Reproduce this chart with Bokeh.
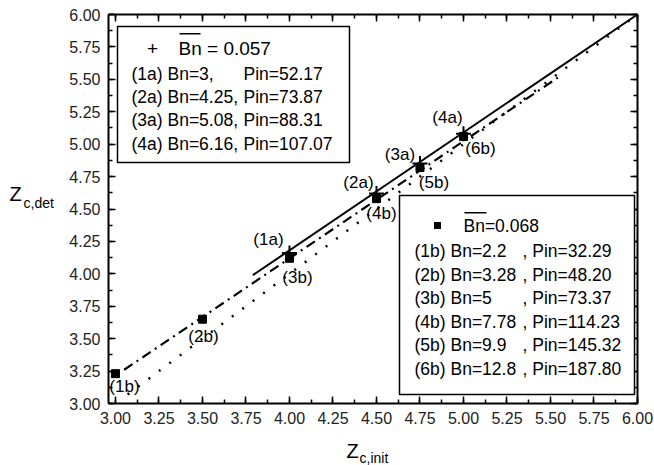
from bokeh.plotting import figure
from bokeh.models import (ColumnDataSource, LinearAxis, SingleIntervalTicker,
                          NumeralTickFormatter, CustomJSTickFormatter, Label,
                          BoxAnnotation)
from bokeh.core.properties import value
from bokeh.embed import file_html
from bokeh.resources import INLINE

# ---- data -------------------------------------------------------------
# series (a): Bn-bar = 0.057
xa = [4.0, 4.5, 4.75, 5.0]
ya = [4.16, 4.62, 4.85, 5.08]
labels_a = ["(1a)", "(2a)", "(3a)", "(4a)"]

# series (b): Bn-bar = 0.068
xb = [3.0, 3.5, 4.0, 4.5, 4.75, 5.0]
yb = [3.23, 3.65, 4.12, 4.58, 4.82, 5.06]
labels_b = ["(1b)", "(2b)", "(3b)", "(4b)", "(5b)", "(6b)"]

# trend lines (end points)
fit_a_x = [3.79, 6.0]
fit_a_y = [3.99, 6.0]
fit_b_x = [3.05, 5.55]
fit_b_y = [3.26, 5.52]
diag_x = [3.07, 6.0]
diag_y = [3.07, 6.0]

legend_a_head = "Bn = 0.057"
legend_a_left = ["(1a) Bn=3,", "(2a) Bn=4.25,", "(3a) Bn=5.08,", "(4a) Bn=6.16,"]
legend_a_right = ["Pin=52.17", "Pin=73.87", "Pin=88.31", "Pin=107.07"]

legend_b_head = "Bn=0.068"
legend_b_left = ["(1b) Bn=2.2", "(2b) Bn=3.28", "(3b) Bn=5", "(4b) Bn=7.78",
                 "(5b) Bn=9.9", "(6b) Bn=12.8"]
legend_b_right = [", Pin=32.29", ", Pin=48.20", ", Pin=73.37", ", Pin=114.23",
                  ", Pin=145.32", ", Pin=187.80"]

# ---- layout constants (pixels) ---------------------------------------
W, H = 654, 465
FL, FR, FT, FB = 108, 637, 14, 403   # frame edges
FONT = "Liberation Sans"

# pixel offsets of the point labels from their markers
off_a_x = [-21, -18, -20, -16]
off_a_y = [-14, -11, -9, -16]
off_b_x = [9, 1, 8, 5, 14, 17]
off_b_y = [13, 17, 19, 15, 15, 12]

p = figure(width=W, height=H, x_range=(2.96, 6.0), y_range=(3.0, 6.0),
           output_backend="svg", toolbar_location=None,
           min_border_left=FL, min_border_right=W - FR,
           min_border_top=FT, min_border_bottom=H - FB)
p.xgrid.visible = False
p.ygrid.visible = False
p.outline_line_color = None
p.background_fill_color = "white"


def style_axis(ax, show_labels=True):
    ax.ticker = SingleIntervalTicker(interval=0.25, num_minor_ticks=2)
    ax.axis_line_width = 2
    ax.axis_line_color = "black"
    ax.major_tick_in = 7
    ax.major_tick_out = 0
    ax.minor_tick_in = 4
    ax.minor_tick_out = 0
    ax.major_tick_line_width = 1.5
    ax.minor_tick_line_width = 1.5
    ax.major_tick_line_color = "black"
    ax.minor_tick_line_color = "black"
    ax.major_label_text_font = FONT
    ax.major_label_text_color = "#222222"
    ax.major_label_text_font_size = "16px"
    if show_labels:
        ax.formatter = NumeralTickFormatter(format="0.00")
        ax.major_label_standoff = 8
    else:
        ax.formatter = CustomJSTickFormatter(code="return ''")
        ax.major_label_standoff = 0


style_axis(p.xaxis[0])
style_axis(p.yaxis[0])
top_axis = LinearAxis()
right_axis = LinearAxis()
style_axis(top_axis, False)
style_axis(right_axis, False)
p.add_layout(top_axis, "above")
p.add_layout(right_axis, "right")

# ---- lines ------------------------------------------------------------
p.line(diag_x, diag_y, line_color="black", line_width=2.5, line_dash="2 11")
p.line(fit_b_x, fit_b_y, line_color="black", line_width=2.2, line_dash="10 5 2 5")
p.line(fit_a_x, fit_a_y, line_color="black", line_width=2)

# ---- markers ----------------------------------------------------------
p.scatter(xb, yb, marker="square", size=8, color="black")
p.scatter(xa, ya, marker="cross", size=15, line_width=2, color="black")

src_a = ColumnDataSource(dict(x=xa, y=ya, t=labels_a, dx=off_a_x, dy=off_a_y))
src_b = ColumnDataSource(dict(x=xb, y=yb, t=labels_b, dx=off_b_x, dy=off_b_y))
for src in (src_a, src_b):
    p.text(x="x", y="y", text="t", x_offset="dx", y_offset="dy", source=src,
           text_align="center", text_baseline="middle",
           text_font=value(FONT), text_font_size="17px", text_color="black")


# ---- annotations in pixel positions ----------------------------------
def sx(px):
    return px - FL


def sy(py):
    return FB - py


def box(l, t, r, b, fill="white", line="black", lw=1.5):
    p.add_layout(BoxAnnotation(left=sx(l), right=sx(r), top=sy(t), bottom=sy(b),
                               left_units="screen", right_units="screen",
                               top_units="screen", bottom_units="screen",
                               fill_color=fill, fill_alpha=1.0,
                               line_color=line, line_width=lw, line_alpha=1.0))


def label(px, py, txt, size, align="left", baseline="middle"):
    p.add_layout(Label(x=sx(px), y=sy(py), x_units="screen", y_units="screen",
                       text=txt, text_font=FONT, text_font_size=size,
                       text_align=align, text_baseline=baseline,
                       text_color="black"))


def title_part(px, py, txt, size, side):
    # axis-title pieces live in the side panels so they are not clipped
    # to the plot frame; canvas units place them absolutely
    p.add_layout(Label(x=px, y=py, x_units="canvas", y_units="canvas",
                       text=txt, text_font=FONT, text_font_size=size,
                       text_align="left", text_baseline="alphabetic",
                       text_color="black"), side)


# legend for series (a)
box(117, 26, 349, 162)
label(152, 48, "+", "19px", align="center")
label(178, 48, legend_a_head, "19px")
box(179, 32.5, 200, 34, fill="black", line=None, lw=0)
for i, (lt, rt) in enumerate(zip(legend_a_left, legend_a_right)):
    yy = 73 + i * 23.4
    label(131, yy, lt, "17.5px")
    label(243, yy, rt, "17.5px")

# legend for series (b)
box(399, 195, 634, 394)
box(433.5, 221.5, 440.5, 228.5, fill="black", line=None, lw=0)
label(463, 225, legend_b_head, "17.5px")
box(464, 211.5, 486, 213, fill="black", line=None, lw=0)
for i, (lt, rt) in enumerate(zip(legend_b_left, legend_b_right)):
    yy = 250.5 + i * 23.5
    label(414, yy, lt, "17.5px")
    label(522, yy, rt, "17.5px")

# axis titles with subscripts
title_part(9, 193, "Z", "20px", "left")
title_part(23, 202, "c,det", "14px", "left")
title_part(346, 450, "Z", "20px", "left")
title_part(359, 457, "c,init", "14px", "below")

open("out.html", "w").write(file_html(p, INLINE))
